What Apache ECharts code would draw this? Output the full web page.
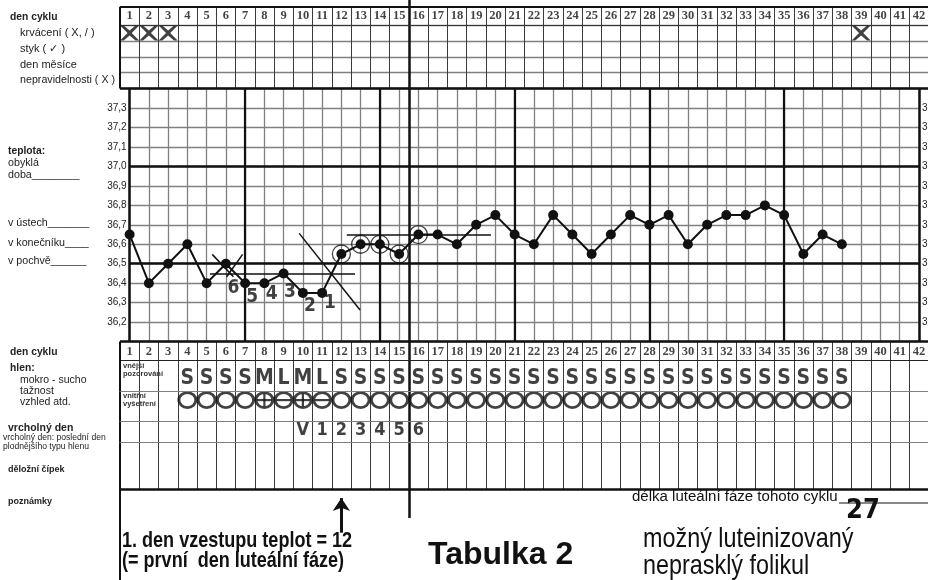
<!DOCTYPE html>
<html><head><meta charset="utf-8">
<script src="https://cdn.jsdelivr.net/npm/echarts@6/dist/echarts.min.js"></script>
<style>html,body{margin:0;padding:0;background:#fff}#c{width:928px;height:580px}</style>
</head><body><div id="c"></div>
<script>
// ---------------- DATA ----------------
const dayLabels = [1,2,3,4,5,6,7,8,9,10,11,12,13,14,15,16,17,18,19,20,21,22,23,24,25,26,27,28,29,30,31,32,33,34,35,36,37,38,39,40,41,42];
const temperatures = [36.65,36.4,36.5,36.6,36.4,36.5,36.4,36.4,36.45,36.35,36.35,36.55,36.6,36.6,36.55,36.65,36.65,36.6,36.7,36.75,36.65,36.6,36.75,36.65,36.55,36.65,36.75,36.7,36.75,36.6,36.7,36.75,36.75,36.8,36.75,36.55,36.65,36.6];
const circledDays = [12,13,14,15,16];
const bleedingDays = [1,2,3,39];
const mucusExternal = ['','','','S','S','S','S','M','L','M','L','S','S','S','S','S','S','S','S','S','S','S','S','S','S','S','S','S','S','S','S','S','S','S','S','S','S','S'];
const mucusInternal = ['','','','O','O','O','O','+','-','+','-','O','O','O','O','O','O','O','O','O','O','O','O','O','O','O','O','O','O','O','O','O','O','O','O','O','O','O'];
const peakDays = [10,11,12,13,14,15,16];
const peakMarks = ['V','1','2','3','4','5','6'];
const countLabels = [[6.39,36.374,'6'],[7.37,36.330,'5'],[8.38,36.344,'4'],[9.33,36.356,'3'],[10.37,36.283,'2'],[11.41,36.296,'1']];
const coverLines = [[[5.18,36.45],[12.71,36.45]],[[12.28,36.65],[19.77,36.65]]];
const crossLines = [[[9.81,36.656],[12.97,36.262]],[[5.29,36.548],[6.39,36.433]],[[6.87,36.548],[6.04,36.433]]];
const thickTempDays = [7,14,21,28,35];
const thickTemps = [37.0,36.5];
const riseDay = 12;
const lutealLength = 27;

// ---------------- LAYOUT ----------------
const CW = 19.25, X0 = 120, W = 42*CW;
const HAND = "'DejaVu Sans Condensed','DejaVu Sans',sans-serif";
const SANS = "'Liberation Sans',Arial,sans-serif";
const SERIF = "'Liberation Serif','DejaVu Serif',serif";
const INK = '#111';

const gridDefs = {
  F:  {left:X0, top:0, width:W, height:518},
  H0: {left:X0, top:6.7, width:W, height:18.3},
  H1: {left:X0, top:25, width:W, height:63.5},
  T:  {left:X0+CW/2, top:88.7, width:41*CW, height:252.8},
  B0: {left:X0, top:341.5, width:W, height:18.5},
  B1: {left:X0, top:360, width:W, height:31.7},
  B2: {left:X0, top:391.7, width:W, height:30},
  B3: {left:X0, top:421.7, width:W, height:21},
  B4: {left:X0, top:442.7, width:W, height:46.3},
  P:  {left:X0, top:489, width:W, height:91}
};
const gridIds = Object.keys(gridDefs);
const gi = id => gridIds.indexOf(id);
const grid = gridIds.map(id => Object.assign({outerBoundsMode:'none', containLabel:false, show:false}, gridDefs[id]));

const darkLine = {color:'#3a3a3a', width:1};
const grayLine = {color:'#808080', width:1.3};
const xAxis = gridIds.map(id => {
  const isT = id === 'T';
  const showSplit = !(id === 'F' || id === 'P');
  return {
    type:'value', gridIndex:gi(id), min:isT?1:0, max:42, interval:1,
    axisLine:{show:false}, axisTick:{show:false}, axisLabel:{show:false},
    splitLine:{show:showSplit, lineStyle: isT ? grayLine : darkLine}
  };
});
const yMax = {F:1,H0:1,H1:4,B0:1,B1:1,B2:1,B3:1,B4:1,P:1};
const tempFmt = v => (v > 36.15 && v < 37.35) ? v.toFixed(1).replace('.', ',') : '';
const yAxis = gridIds.map(id => {
  if (id === 'T') {
    return {type:'value', gridIndex:gi(id), min:36.1, max:37.4, interval:0.1,
      axisLine:{show:false}, axisTick:{show:false},
      axisLabel:{show:true, margin:3, formatter:tempFmt, fontFamily:SANS, fontSize:10, color:'#222'},
      splitLine:{show:true, lineStyle:grayLine}};
  }
  return {type:'value', gridIndex:gi(id), min:0, max:yMax[id], interval:1, inverse:true,
    axisLine:{show:false}, axisTick:{show:false}, axisLabel:{show:false},
    splitLine:{show:id === 'H1', lineStyle:grayLine}};
});
// right temperature axis (labels clipped by page edge)
yAxis.push({type:'value', gridIndex:gi('T'), position:'right', min:36.1, max:37.4, interval:0.1,
  axisLine:{show:false}, axisTick:{show:false},
  axisLabel:{show:true, margin:3, formatter:tempFmt, fontFamily:SANS, fontSize:10, color:'#222'},
  splitLine:{show:false}});

const ml = (data) => ({silent:true, symbol:'none', label:{show:false}, animation:false, data});
const vLine = (x, w, c) => ({xAxis:x, lineStyle:{color:c||INK, width:w, type:'solid'}});
const hLine = (y, w, c) => ({yAxis:y, lineStyle:{color:c||INK, width:w, type:'solid'}});
const seg = (p, w) => [{coord:p[0], lineStyle:{color:INK, width:w, type:'solid'}}, {coord:p[1]}];

const base = id => ({xAxisIndex:gi(id), yAxisIndex:gi(id), silent:true, animation:false});
const textScatter = (id, data, font) => Object.assign(base(id), {
  type:'scatter', symbol:'circle', symbolSize:1, itemStyle:{color:'rgba(0,0,0,0)'},
  data,
  label:{show:true, position:'inside', formatter:p => p.value[2], color:INK,
    fontFamily:font.family, fontSize:font.size, fontWeight:font.weight || 'bold'}
});

const series = [];
// full-height divider between day 15 and 16
series.push(Object.assign(base('F'), {type:'scatter', data:[], markLine:ml([vLine(15, 2.5)])}));
// header: day numbers
series.push(Object.assign(textScatter('H0', dayLabels.map(d => [d-0.5, 0.5, d]), {family:SERIF, size:12.5}), {
  markLine: ml([hLine(0, 2.2), vLine(0, 2), hLine(1, 1, '#333')])
}));
// header: bleeding X marks
series.push(Object.assign(base('H1'), {
  type:'scatter', data:bleedingDays.map(d => [d-0.5, 0.5]),
  symbol:'path://M0,0 L19,0 L50,33 L81,0 L100,0 L61,50 L100,100 L81,100 L50,67 L19,100 L0,100 L39,50 Z',
  symbolSize:[19,15], itemStyle:{color:INK},
  markLine: ml([vLine(0, 2), hLine(4, 2.6)])
}));
// temperature curve
const tempMarks = [vLine(1, 2.5), vLine(42, 2.5)]
  .concat(thickTempDays.map(d => vLine(d, 2.2)))
  .concat(thickTemps.map(t => hLine(t, 2.6)))
  .concat(coverLines.map(p => seg(p, 1.5)))
  .concat(crossLines.map(p => seg(p, 1.5)));
series.push(Object.assign(base('T'), {
  type:'line', data:temperatures.map((t, i) => [i+1, t]),
  symbol:'circle', symbolSize:10, showSymbol:true,
  lineStyle:{color:INK, width:2}, itemStyle:{color:INK},
  markLine: ml(tempMarks), z:5
}));
// circled temperatures
series.push(Object.assign(base('T'), {
  type:'scatter', data:circledDays.map(d => [d, temperatures[d-1]]),
  symbol:'circle', symbolSize:18,
  itemStyle:{color:'rgba(0,0,0,0)', borderColor:INK, borderWidth:1.3}, z:6
}));
// count labels 6..1 under the low temperatures
series.push(Object.assign(textScatter('T', countLabels, {family:HAND, size:19}), {z:6}));
// bottom table: day numbers
series.push(Object.assign(textScatter('B0', dayLabels.map(d => [d-0.5, 0.55, d]), {family:SERIF, size:12.5}), {
  markLine: ml([hLine(0, 2.6), vLine(0, 2), hLine(1, 1, '#222')])
}));
// external mucus observation
const extData = [];
mucusExternal.forEach((v, i) => { if (v) extData.push([i+0.5, 0.6, v]); });
series.push(Object.assign(textScatter('B1', extData, {family:HAND, size:21}), {
  markLine: ml([vLine(0, 2), hLine(1, 1.2, '#808080')])
}));
// internal examination circles
const circData = [], hBars = [], vBars = [];
mucusInternal.forEach((v, i) => {
  if (!v) return;
  circData.push([i+0.5, 0.28]);
  if (v === '+' || v === '-') hBars.push([i+0.5, 0.28]);
  if (v === '+') vBars.push([i+0.5, 0.28]);
});
series.push(Object.assign(base('B2'), {
  type:'scatter', data:circData, symbol:'circle', symbolSize:[17,15],
  itemStyle:{color:'rgba(0,0,0,0)', borderColor:INK, borderWidth:2.8},
  markLine: ml([vLine(0, 2), hLine(1, 1.2, '#808080')])
}));
series.push(Object.assign(base('B2'), {type:'scatter', data:hBars, symbol:'rect', symbolSize:[15,2.2], itemStyle:{color:INK}}));
series.push(Object.assign(base('B2'), {type:'scatter', data:vBars, symbol:'rect', symbolSize:[2.2,13], itemStyle:{color:INK}}));
// peak day counting
series.push(Object.assign(textScatter('B3', peakDays.map((d, i) => [d-0.5, 0.42, peakMarks[i]]), {family:HAND, size:18}), {
  markLine: ml([vLine(0, 2), hLine(1, 1.2, '#808080')])
}));
// cervix row
series.push(Object.assign(base('B4'), {type:'scatter', data:[], markLine: ml([vLine(0, 2), hLine(1, 2.6)])}));
// notes: arrow to the first day of temperature rise
series.push(Object.assign(base('P'), {type:'scatter', data:[], markLine: {
  silent:true, label:{show:false}, animation:false, symbol:'none',
  data:[vLine(0, 2), [
    {coord:[riseDay-0.5, 0.48], symbol:'none', lineStyle:{color:INK, width:3, type:'solid'}},
    {coord:[riseDay-0.5, 0.1], symbol:'arrow', symbolSize:13}
  ]]
}}));

// ---------------- TEXT ----------------
const txt = (text, x, y, size, opts, sx) => ({type:'text', silent:true, x, y, scaleX:sx || 1,
  style:Object.assign({text, x:0, y:0, fontSize:size, fontFamily:SANS, fill:'#222', verticalAlign:'middle', align:'left'}, opts || {})});
const B = {fontWeight:'bold'};
const NB = {fontWeight:'bold', fill:INK};
const N = {fill:INK};
const graphic = [
  txt('den cyklu', 10, 17, 10.3, B),
  txt('krvácení ( X, / )', 20, 33, 11),
  txt('styk ( \u2713 )', 20, 49, 11),
  txt('den měsíce', 20, 65, 11),
  txt('nepravidelnosti ( X )', 20, 80.5, 10.7),
  txt('teplota:', 8, 151, 10.3, B),
  txt('obyklá', 8, 163, 10.7),
  txt('doba________', 8, 175, 10.7),
  txt('v ústech_______', 8, 223, 10.7),
  txt('v konečníku____', 8, 243, 10.7),
  txt('v pochvě______', 8, 261, 10.7),
  txt('den cyklu', 10, 352, 10.3, B),
  txt('hlen:', 10, 368, 10.3, B),
  txt('mokro - sucho', 20, 380, 10.5),
  txt('tažnost', 20, 391, 10.5),
  txt('vzhled atd.', 20, 402, 10.5),
  txt('vrcholný den', 8, 428, 10.5, B),
  txt('vrcholný den: poslední den', 3, 438, 8.6),
  txt('plodnějšího typu hlenu', 3, 447, 8.6),
  txt('děložní čípek', 8, 470, 9, B),
  txt('poznámky', 8, 502, 9, B),
  txt('vnější\npozorování', 123, 370, 7.5, {fontWeight:'bold', lineHeight:8, fill:'#333'}),
  txt('vnitřní\nvyšetření', 123, 400, 7.5, {fontWeight:'bold', lineHeight:8, fill:'#333'}),
  txt('1. den vzestupu teplot = ' + riseDay, 122, 541, 22, NB, 0.82),
  txt('(= první  den luteální fáze)', 122, 561, 22, NB, 0.82),
  txt('Tabulka 2', 428, 555, 32, NB),
  txt('možný luteinizovaný', 643, 539, 28.5, N, 0.82),
  txt('neprasklý folikul', 643, 566, 28.5, N, 0.82),
  txt('délka luteální fáze tohoto cyklu', 632, 497, 15.5, N, 0.97),
  {type:'line', silent:true, shape:{x1:839, y1:503, x2:928, y2:503}, style:{stroke:INK, lineWidth:1}},
  txt(String(lutealLength), 846, 511, 27, {fontFamily:HAND, fontWeight:'bold', fill:INK})
];

const chart = echarts.init(document.getElementById('c'), null, {renderer:'canvas'});
chart.setOption({animation:false, backgroundColor:'#fff', grid, xAxis, yAxis, series, graphic, tooltip:{show:false}});
</script>
</body></html>
